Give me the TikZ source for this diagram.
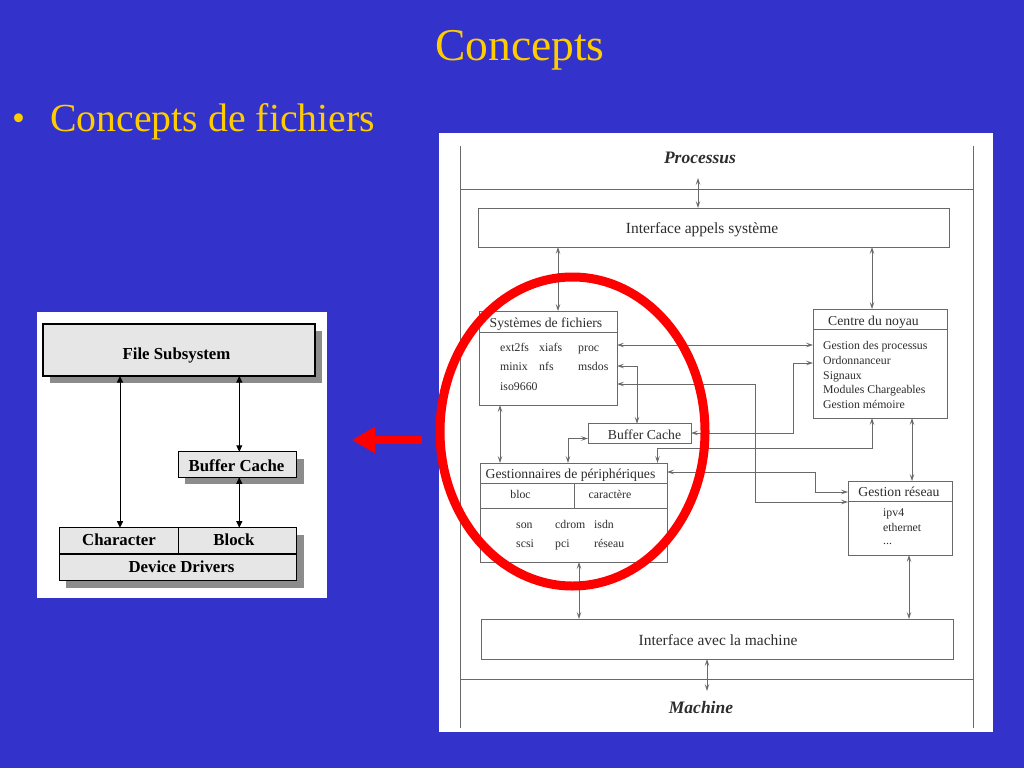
\documentclass[tikz,border=0pt]{standalone}
\usepackage{fontspec}
\setmainfont{Liberation Serif}
\usetikzlibrary{arrows.meta,shadows}
\definecolor{bg}{RGB}{51,51,204}
\definecolor{ttl}{RGB}{255,204,0}
\definecolor{lgray}{RGB}{105,105,105}
\definecolor{tgray}{RGB}{45,45,45}
\definecolor{boxfill}{RGB}{230,230,230}
\definecolor{shadowc}{RGB}{140,140,140}
\definecolor{redc}{RGB}{255,0,0}
\begin{document}
\begin{tikzpicture}[x=1pt,y=-1pt,
  lbox/.style={draw=black, line width=1.3pt, fill=boxfill, inner sep=0pt, outer sep=0pt,
    general shadow={fill=shadowc, shadow xshift=7pt, shadow yshift=-7pt}},
  ltxt/.style={font=\fontsize{16.8}{19}\selectfont\bfseries, anchor=base, inner sep=0pt},
  lcon/.style={draw=black, line width=1pt, {Triangle[length=6.5pt,width=6pt]}-{Triangle[length=6.5pt,width=6pt]}},
  rbox/.style={draw=lgray, line width=0.8pt, inner sep=0pt, outer sep=0pt},
  rline/.style={draw=lgray, line width=0.8pt},
  con/.style={draw=lgray, line width=0.75pt, {Stealth[length=7pt,width=4.5pt,inset=3pt]}-{Stealth[length=7pt,width=4.5pt,inset=3pt]}},
  hdr/.style={text=tgray, font=\fontsize{13.7}{16}\selectfont, anchor=base, inner sep=0pt},
  big/.style={text=tgray, font=\fontsize{15.5}{18}\selectfont, anchor=base, inner sep=0pt},
  itm/.style={text=tgray, font=\fontsize{11.8}{14}\selectfont, anchor=base west, inner sep=0pt},
  bi/.style={text=tgray, font=\fontsize{17.5}{20}\selectfont\bfseries\itshape, anchor=base, inner sep=0pt},
  ttltxt/.style={text=ttl, anchor=base, inner sep=0pt}]
\fill[bg] (0,0) rectangle (1024,768);
\useasboundingbox (0,0) rectangle (1024,768);

% titles
\node[ttltxt, font=\fontsize{45.5}{54}\selectfont] (title) at (520,60) {Concepts};
\node[ttltxt, anchor=base west, font=\fontsize{37}{48}\selectfont] (bul) at (12,130) {•};
\node[ttltxt, anchor=base west, font=\fontsize{39.8}{48}\selectfont] (sub) at (50,131) {Concepts de fichiers};

% ---------- left diagram ----------
\fill[white] (37,312) rectangle (327,598);
\node[lbox, minimum width=272pt, minimum height=52pt] (fs) at (179,350) {};
\node[lbox, minimum width=118.5pt, minimum height=25.5pt] (lbc) at (237.5,464.5) {};
\node[lbox, minimum width=237.5pt, minimum height=53pt] (dd) at (178,554.2) {};
\draw[black, line width=1.1pt] (dd.west |- 0,554) -- (dd.east |- 0,554);
\draw[black, line width=1.1pt] (dd.north -| 178.3,0) -- (178.3,554);
\node[ltxt] (fst) at (176.5,359) {File Subsystem};
\node[ltxt] (lbct) at (236.5,471.5) {Buffer Cache};
\node[ltxt] (chr) at (119,545.5) {Character};
\node[ltxt] (blk) at (234,545.5) {Block};
\node[ltxt] (ddt) at (181.5,572) {Device Drivers};
\draw[lcon] (fs.south -| 120,0) -- (dd.north -| 120,0);
\draw[lcon] (fs.south -| 239.3,0) -- (lbc.north -| 239.3,0);
\draw[lcon] (lbc.south -| 239.3,0) -- (dd.north -| 239.3,0);

% red arrow
\coordinate (ra1) at (422,440);
\coordinate (ra2) at (352,440);
\draw[redc, line width=8pt, -{Triangle[length=23pt,width=25pt]}] (ra1) -- (ra2);

% ---------- right diagram ----------
\fill[white] (439,133) rectangle (993,732);
\draw[rline] (460,146) -- (460,728);
\draw[rline] (973,146) -- (973,728);
\draw[rline] (460,189) -- (973,189);
\draw[rline] (460,679) -- (973,679);

\node[bi] (proc) at (700,163) {Processus};
\node[bi] (mach) at (701,713) {Machine};

\node[rbox, minimum width=471pt, minimum height=39pt] (ias) at (713.5,227.5) {};
\node[big] (iast) at (702,233) {Interface appels système};

\node[rbox, minimum width=472pt, minimum height=40pt] (iam) at (717,639) {};
\node[big] (iamt) at (718,645) {Interface avec la machine};

% Systemes de fichiers
\node[rbox, minimum width=138pt, minimum height=94pt] (sf) at (548,358) {};
\draw[rline] (sf.west |- 0,332) -- (sf.east |- 0,332);
\node[hdr] (sfh) at (546,327) {Systèmes de fichiers};
\node[itm] (i1) at (500,351) {ext2fs};
\node[itm] (i2) at (539,351) {xiafs};
\node[itm] (i3) at (578,351) {proc};
\node[itm] (i4) at (500,370.5) {minix};
\node[itm] (i5) at (539,370.5) {nfs};
\node[itm] (i6) at (578,370.5) {msdos};
\node[itm] (i7) at (500,390.5) {iso9660};

% Centre du noyau
\node[rbox, minimum width=134pt, minimum height=109pt] (cn) at (880,363.5) {};
\draw[rline] (cn.west |- 0,329) -- (cn.east |- 0,329);
\node[hdr] (cnh) at (873.5,325) {Centre du noyau};
\node[itm] (c1) at (823,349) {Gestion des processus};
\node[itm] (c2) at (823,364) {Ordonnanceur};
\node[itm] (c3) at (823,379) {Signaux};
\node[itm] (c4) at (823,393.5) {Modules Chargeables};
\node[itm] (c5) at (823,408) {Gestion mémoire};

% Buffer cache
\node[rbox, minimum width=103pt, minimum height=19.5pt] (bc) at (639.5,433.5) {};
\node[hdr] (bct) at (644.5,439) {Buffer Cache};

% Gestionnaires de peripheriques
\node[rbox, minimum width=187pt, minimum height=99pt] (gp) at (573.5,512.5) {};
\draw[rline] (gp.west |- 0,483) -- (gp.east |- 0,483);
\draw[rline] (gp.west |- 0,508) -- (gp.east |- 0,508);
\draw[rline] (574,483) -- (574,508);
\node[hdr] (gph) at (570.5,478.5) {Gestionnaires de périphériques};
\node[hdr, font=\fontsize{11.8}{14}\selectfont] (g1) at (520.5,498) {bloc};
\node[hdr, font=\fontsize{11.8}{14}\selectfont] (g2) at (610,498) {caractère};
\node[itm] (g3) at (516,528.5) {son};
\node[itm] (g4) at (555,528.5) {cdrom};
\node[itm] (g5) at (594,528.5) {isdn};
\node[itm] (g6) at (516,547.5) {scsi};
\node[itm] (g7) at (555,547.5) {pci};
\node[itm] (g8) at (594,547.5) {réseau};

% Gestion reseau
\node[rbox, minimum width=104pt, minimum height=74pt] (gr) at (900,518) {};
\draw[rline] (gr.west |- 0,501) -- (gr.east |- 0,501);
\node[hdr] (grh) at (899,496.5) {Gestion réseau};
\node[itm] (r1) at (883,516) {ipv4};
\node[itm] (r2) at (883,531) {ethernet};
\node[itm] (r3) at (883,544) {...};

% connectors
\coordinate (ptop) at (698,178);
\coordinate (mbot) at (707,691);
\draw[con] (ptop) -- (ias.north -| ptop);
\draw[con] (iam.south -| mbot) -- (mbot);
\draw[con] (ias.south -| 558,0) -- (sf.north -| 558,0);
\draw[con] (ias.south -| 872,0) -- (cn.north -| 872,0);
\draw[con] (sf.south -| 500,0) -- (gp.north -| 500,0);
\draw[con] (sf.east |- 0,345) -- (cn.west |- 0,345);
\draw[con] (sf.east |- 0,366) -| (bc.north -| 637,0);
\draw[con] (sf.east |- 0,384) -| (755,502) -- (gr.west |- 0,502);
\draw[con] (bc.east |- 0,433) -- (793,433) |- (cn.west |- 0,363);
\draw[con] (bc.west |- 0,438.5) -| (gp.north -| 568,0);
\draw[con] (gp.north -| 657.5,0) |- (872,448) -- (cn.south -| 872,0);
\draw[con] (gp.east |- 0,472) -- (815,472) |- (gr.west |- 0,492);
\draw[con] (gp.south -| 579,0) -- (iam.north -| 579,0);
\draw[con] (cn.south -| 912,0) -- (gr.north -| 912,0);
\draw[con] (gr.south -| 909,0) -- (iam.north -| 909,0);

% red ellipse
\draw[redc, line width=9pt] (572.5,431.5) ellipse [x radius=132.5, y radius=154.5];
\end{tikzpicture}
\end{document}
